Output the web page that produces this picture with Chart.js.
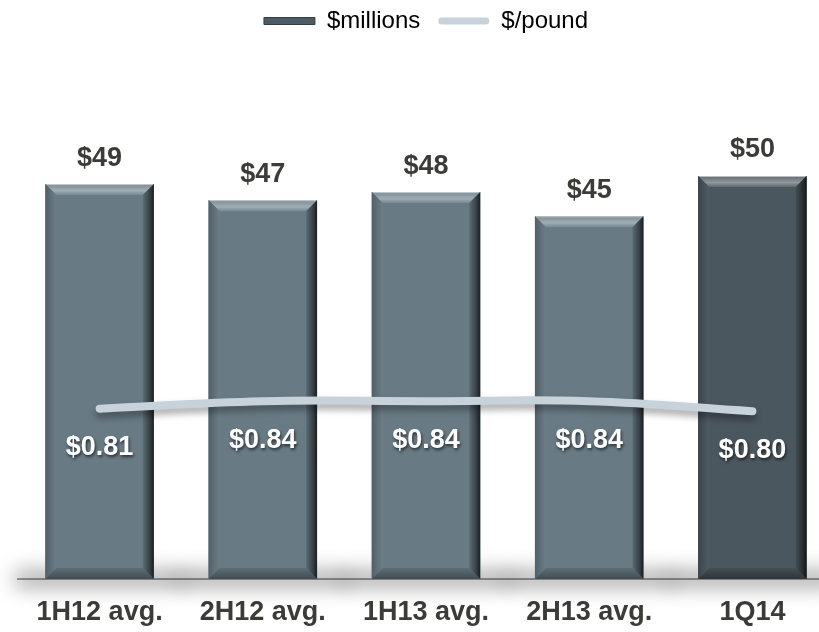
<!DOCTYPE html>
<html>
<head>
<meta charset="utf-8">
<script src="https://cdn.jsdelivr.net/npm/chart.js@4.4.1/dist/chart.umd.min.js"></script>
<style>
  html, body { margin: 0; padding: 0; background: #fff; overflow: hidden; }
  #wrap { width: 840px; height: 632px; }
</style>
</head>
<body>
<div id="wrap">
  <canvas id="costChart" width="840" height="632"></canvas>
</div>
<script>
const categories = ['1H12 avg.', '2H12 avg.', '1H13 avg.', '2H13 avg.', '1Q14'];
const millions = [49, 47, 48, 45, 50];
const perPound = [0.81, 0.84, 0.84, 0.84, 0.80];

const FONT = "'Liberation Sans', Arial, Helvetica, sans-serif";
const barFaces = [[104, 122, 132], [104, 122, 132], [104, 122, 132], [104, 122, 132], [75, 87, 94]];

function rgb(c) { return 'rgb(' + c.map(Math.round).join(',') + ')'; }
function mix(c, to, t) { return c.map((v, i) => v + (to[i] - v) * t); }
const WHITE = [255, 255, 255], BLACK = [0, 0, 0];

function poly(ctx, pts, fill) {
  ctx.beginPath();
  ctx.moveTo(pts[0][0], pts[0][1]);
  for (let i = 1; i < pts.length; i++) ctx.lineTo(pts[i][0], pts[i][1]);
  ctx.closePath();
  ctx.fillStyle = fill;
  ctx.fill();
}

function barBox(el) {
  const p = el.getProps(['x', 'y', 'width', 'base'], true);
  return {
    l: p.x - p.width / 2, r: p.x + p.width / 2,
    t: Math.min(p.y, p.base), b: Math.max(p.y, p.base), cx: p.x
  };
}

// soft shadow pooled around the foot of every bar
const barShadow = {
  id: 'barShadow',
  beforeDatasetsDraw(chart) {
    const ctx = chart.ctx;
    chart.getDatasetMeta(0).data.forEach(el => {
      const k = barBox(el);
      ctx.save();
      ctx.filter = 'blur(10px)';
      ctx.fillStyle = 'rgba(0,0,0,0.36)';
      ctx.fillRect(k.l - 30, k.b - 8, k.r - k.l + 60, 16);
      ctx.restore();
    });
  }
};

// bevelled edges on each bar
const barBevel = {
  id: 'barBevel',
  afterDatasetDraw(chart, args) {
    if (args.index !== 0) return;
    const ctx = chart.ctx;
    const s = 11;
    args.meta.data.forEach((el, i) => {
      const k = barBox(el);
      const f = barFaces[i];
      ctx.save();
      let g = ctx.createLinearGradient(0, k.t, 0, k.t + s);
      g.addColorStop(0, rgb(mix(f, WHITE, 0.12)));
      g.addColorStop(0.6, rgb(mix(f, WHITE, 0.38)));
      g.addColorStop(1, rgb(mix(f, WHITE, 0.1)));
      poly(ctx, [[k.l, k.t], [k.r, k.t], [k.r - s, k.t + s], [k.l + s, k.t + s]], g);

      g = ctx.createLinearGradient(k.l, 0, k.l + s, 0);
      g.addColorStop(0, rgb(mix(f, BLACK, 0.22)));
      g.addColorStop(1, rgb(mix(f, WHITE, 0.03)));
      poly(ctx, [[k.l, k.t], [k.l + s, k.t + s], [k.l + s, k.b - s], [k.l, k.b]], g);

      g = ctx.createLinearGradient(0, k.b - s, 0, k.b);
      g.addColorStop(0, rgb(mix(f, BLACK, 0.1)));
      g.addColorStop(1, rgb(mix(f, BLACK, 0.38)));
      poly(ctx, [[k.l, k.b], [k.l + s, k.b - s], [k.r - s, k.b - s], [k.r, k.b]], g);

      g = ctx.createLinearGradient(k.r - s, 0, k.r, 0);
      g.addColorStop(0, rgb(mix(f, BLACK, 0.12)));
      g.addColorStop(0.6, rgb(mix(f, BLACK, 0.45)));
      g.addColorStop(1, rgb(mix(f, BLACK, 0.75)));
      poly(ctx, [[k.r, k.t], [k.r, k.b], [k.r - s, k.b - s], [k.r - s, k.t + s]], g);

      ctx.fillStyle = 'rgba(255,255,255,0.55)';
      ctx.fillRect(k.l + 1, k.t, k.r - k.l - 2, 1);
      ctx.restore();
    });
  }
};

// drop shadow under the $/pound line
const lineShadow = {
  id: 'lineShadow',
  beforeDatasetDraw(chart, args) {
    if (args.index !== 1) return;
    const ctx = chart.ctx;
    ctx.save();
    ctx.shadowColor = 'rgba(0,0,0,0.35)';
    ctx.shadowBlur = 7;
    ctx.shadowOffsetY = 5;
  },
  afterDatasetDraw(chart, args) {
    if (args.index === 1) chart.ctx.restore();
  }
};

// value labels above bars and under line points
const valueLabels = {
  id: 'valueLabels',
  afterDatasetsDraw(chart) {
    const ctx = chart.ctx;
    ctx.save();
    ctx.textAlign = 'center';
    ctx.textBaseline = 'middle';
    ctx.font = 'bold 27px ' + FONT;
    ctx.fillStyle = '#3b3b38';
    chart.getDatasetMeta(0).data.forEach((el, i) => {
      ctx.fillText('$' + millions[i], el.x, el.y - 26);
    });
    ctx.fillStyle = '#ffffff';
    ctx.shadowColor = 'rgba(0,0,0,0.6)';
    ctx.shadowBlur = 3;
    ctx.shadowOffsetX = 1;
    ctx.shadowOffsetY = 2;
    chart.getDatasetMeta(1).data.forEach((el, i) => {
      ctx.fillText('$' + perPound[i].toFixed(2), el.x, el.y + 39);
    });
    ctx.restore();
  }
};

new Chart(document.getElementById('costChart'), {
  type: 'bar',
  data: {
    labels: categories,
    datasets: [{
      label: '$millions',
      data: millions,
      backgroundColor: barFaces.map(rgb),
      borderWidth: 0,
      categoryPercentage: 1,
      barPercentage: 0.665,
      order: 1
    }, {
      type: 'line',
      label: '$/pound',
      data: perPound,
      yAxisID: 'y2',
      borderColor: '#c7d2db',
      borderWidth: 8,
      borderCapStyle: 'round',
      tension: 0.4,
      pointRadius: 0,
      fill: false,
      order: 0
    }]
  },
  options: {
    responsive: false,
    animation: false,
    layout: { padding: { left: 18, right: 6, top: -9, bottom: 0 } },
    plugins: {
      tooltip: { enabled: false },
      legend: {
        position: 'top',
        labels: {
          font: { family: FONT, size: 24 },
          color: '#111',
          boxWidth: 51,
          boxHeight: 7,
          padding: 18,
          useBorderRadius: true,
          generateLabels() {
            return [
              { text: '$millions', fillStyle: '#4d5c64', strokeStyle: '#343e44', lineWidth: 1, borderRadius: 0, datasetIndex: 0 },
              { text: '$/pound', fillStyle: '#c7d2db', strokeStyle: '#c7d2db', lineWidth: 0, borderRadius: 3.5, datasetIndex: 1 }
            ];
          }
        }
      }
    },
    scales: {
      x: {
        grid: { display: false, drawTicks: false },
        border: { display: true, color: '#a3a3a3', width: 2 },
        ticks: { font: { family: FONT, size: 27, weight: 'bold' }, color: '#3b3b38', padding: 17 },
        afterFit(scale) { scale.height = 53; }
      },
      y: { display: false, min: 0, max: 66.5 },
      y2: { display: false, min: 0.13, max: 2.27 }
    }
  },
  plugins: [barShadow, barBevel, lineShadow, valueLabels]
});
</script>
</body>
</html>
